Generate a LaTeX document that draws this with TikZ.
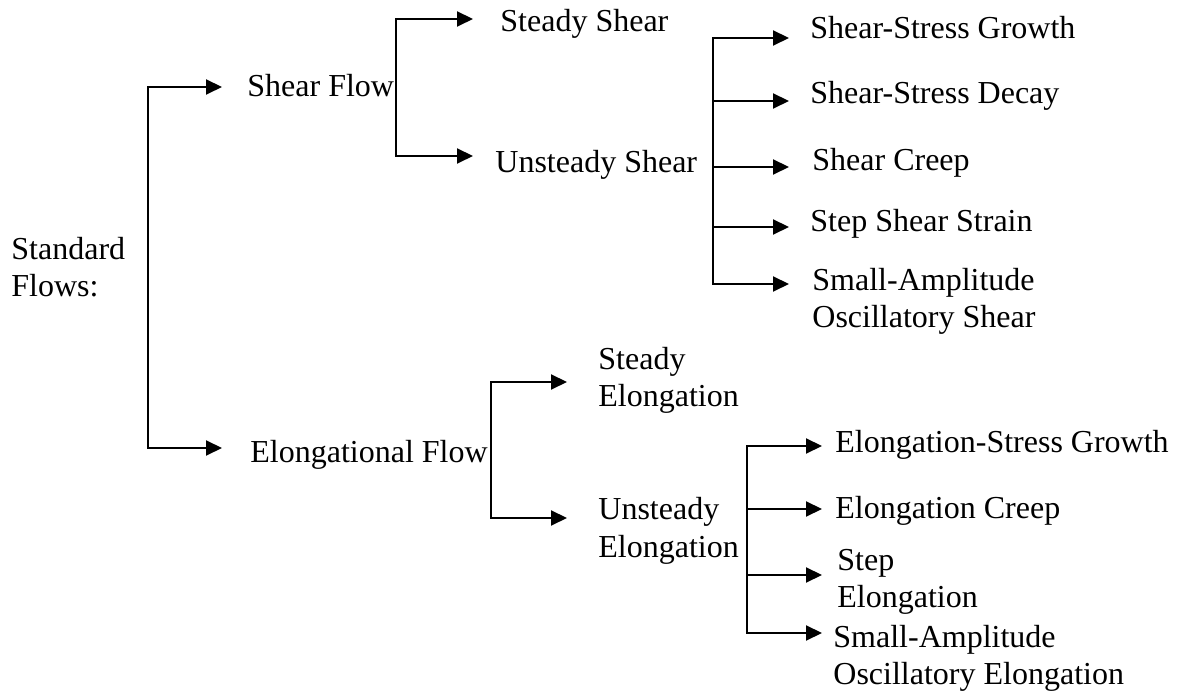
\documentclass[tikz,border=0pt]{standalone}
\usepackage{fontspec}
\setmainfont{Liberation Serif}
\usetikzlibrary{arrows.meta}
\tikzset{
  lbl/.style={anchor=base west, inner sep=0pt, align=left, font=\fontsize{16}{18.5}\selectfont},
  arr/.style={-{Triangle[length=8pt,width=7.5pt]}, line width=1pt},
  brk/.style={line width=1pt, line cap=rect},
}
\begin{document}
\begin{tikzpicture}[x=0.5pt, y=-0.5pt]
  \useasboundingbox (0,0) rectangle (1177,694);

  % Nodes (base = last line)
  \node[lbl] (std) at (11,297) {Standard\\Flows:};
  \node[lbl] (shear) at (247,97) {Shear Flow};
  \node[lbl] (elong) at (250,463) {Elongational Flow};

  \node[lbl] (sshear) at (500,32) {Steady Shear};
  \node[lbl] (ushear) at (495,173) {Unsteady Shear};
  \node[lbl] (selong) at (598,407) {Steady\\Elongation};
  \node[lbl] (uelong) at (598,557) {Unsteady\\Elongation};

  \node[lbl] (growth) at (810,39) {Shear-Stress Growth};
  \node[lbl] (decay) at (810,104) {Shear-Stress Decay};
  \node[lbl] (screep) at (812,171) {Shear Creep};
  \node[lbl] (sstrain) at (810,232) {Step Shear Strain};
  \node[lbl] (saos) at (812,328) {Small-Amplitude\\Oscillatory Shear};

  \node[lbl] (egrowth) at (835,453) {Elongation-Stress Growth};
  \node[lbl] (ecreep) at (835,518) {Elongation Creep};
  \node[lbl] (estep) at (837,607) {Step\\Elongation};
  \node[lbl] (eaos) at (833,684) {Small-Amplitude\\Oscillatory Elongation};

  % Bracket corners
  \coordinate (r1) at (148,87);
  \coordinate (r2) at (148,448);
  \coordinate (s1) at (396,19);
  \coordinate (s2) at (396,156);
  \coordinate (e1) at (491,382);
  \coordinate (e2) at (491,518);
  \coordinate (u1) at (713,38);
  \coordinate (u2) at (713,101);
  \coordinate (u3) at (713,167);
  \coordinate (u4) at (713,227);
  \coordinate (u5) at (713,284);
  \coordinate (v1) at (747,446);
  \coordinate (v2) at (747,509);
  \coordinate (v3) at (747,575);
  \coordinate (v4) at (747,633);

  % Brackets
  \draw[brk] (r1) -- (r2);
  \draw[brk] (s1) -- (s2);
  \draw[brk] (e1) -- (e2);
  \draw[brk] (u1) -- (u5);
  \draw[brk] (v1) -- (v4);

  % Arrows
  \draw[arr, shorten >=12.5pt] (r1) -- (shear.west |- r1);
  \draw[arr, shorten >=14pt] (r2) -- (elong.west |- r2);

  \draw[arr, shorten >=13.5pt] (s1) -- (sshear.west |- s1);
  \draw[arr, shorten >=11pt] (s2) -- (ushear.west |- s2);

  \draw[arr, shorten >=15.5pt] (e1) -- (selong.west |- e1);
  \draw[arr, shorten >=15.5pt] (e2) -- (uelong.west |- e2);

  \draw[arr, shorten >=10.5pt] (u1) -- (growth.west |- u1);
  \draw[arr, shorten >=10.5pt] (u2) -- (decay.west |- u2);
  \draw[arr, shorten >=11.5pt] (u3) -- (screep.west |- u3);
  \draw[arr, shorten >=10.5pt] (u4) -- (sstrain.west |- u4);
  \draw[arr, shorten >=11.5pt] (u5) -- (saos.west |- u5);

  \draw[arr, shorten >=6.5pt] (v1) -- (egrowth.west |- v1);
  \draw[arr, shorten >=6.5pt] (v2) -- (ecreep.west |- v2);
  \draw[arr, shorten >=7.5pt] (v3) -- (estep.west |- v3);
  \draw[arr, shorten >=5.5pt] (v4) -- (eaos.west |- v4);
\end{tikzpicture}
\end{document}
